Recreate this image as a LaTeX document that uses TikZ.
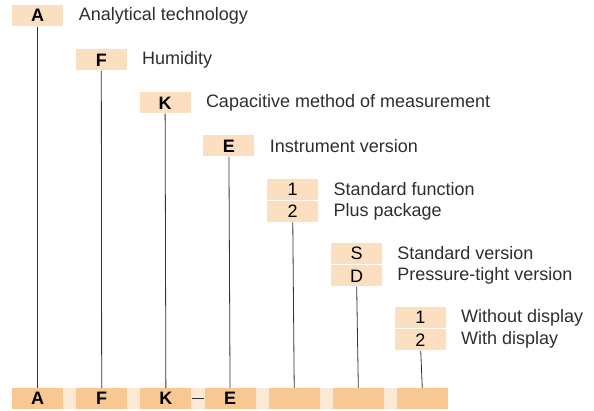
\documentclass[tikz,border=0pt]{standalone}
\usepackage{fontspec}
\setmainfont{Liberation Sans}
\usepackage{tikz}
\usetikzlibrary{positioning}
\definecolor{peach}{HTML}{FCDEC0}
\definecolor{peachdark}{HTML}{F8C893}
\definecolor{peachpale}{HTML}{FDE8D3}
\definecolor{linegray}{HTML}{333333}
\definecolor{textgray}{HTML}{2E2E2E}
\tikzstyle{code} = [rectangle, fill=peach, minimum width=51pt, minimum height=21pt, inner sep=0pt, text=black, font=\fontsize{18}{20}\selectfont]
\tikzstyle{slot} = [rectangle, fill=peachdark, minimum width=51pt, minimum height=21pt, inner sep=0pt, text=black, font=\fontsize{18}{20}\selectfont\bfseries]
\tikzstyle{label} = [inner sep=0pt, text=textgray, font=\fontsize{18}{21}\selectfont]
\tikzstyle{line} = [draw, linegray, line width=0.8pt]

\begin{document}
\begin{tikzpicture}[x=1pt, y=-1pt, node distance=15pt]
      \useasboundingbox (0,0) rectangle (594,410);
      \fill[peachpale] (12,388.2) rectangle (446,409.2);

      \node [slot] (bA) at (37.5,398.7) {A};
      \node [slot, right=12.8pt of bA] (bF) {F};
      \node [slot, right=12.8pt of bF] (bK) {K};
      \node [slot, right=12.8pt of bK] (bE) {E};
      \node [slot, right=12.8pt of bE] (bfunc) {};
      \node [slot, right=12.8pt of bfunc] (bver) {};
      \node [slot, right=12.8pt of bver] (bdisp) {};

      \node [code, font=\fontsize{18}{20}\selectfont\bfseries] (A) at (37.5,15.8) {A};
      \node [label, right=15.5pt of A] (lA) {Analytical technology};
      \node [code, font=\fontsize{18}{20}\selectfont\bfseries] (F) at (101.3,59.9) {F};
      \node [label, right=of F] (lF) {Humidity};
      \node [code, font=\fontsize{18}{20}\selectfont\bfseries] (K) at (165.1,102.9) {K};
      \node [label, right=of K] (lK) {Capacitive method of measurement};
      \node [code, font=\fontsize{18}{20}\selectfont\bfseries] (E) at (228.9,145.9) {E};
      \node [label, right=of E] (lE) {Instrument version};

      \node [code] (func1) at (292.7,189.2) {1};
      \node [code, below=1pt of func1] (func2) {2};
      \node [label, right=of func1] (lfunc1) {Standard function};
      \node [label, right=of func2] (lfunc2) {Plus package};

      \node [code] (verS) at (356.5,253.5) {S};
      \node [code, below=1pt of verS] (verD) {D};
      \node [label, right=of verS] (lverS) {Standard version};
      \node [label, right=of verD] (lverD) {Pressure-tight version};

      \node [code] (disp1) at (420.3,317.5) {1};
      \node [code, below=1pt of disp1] (disp2) {2};
      \node [label, right=of disp1] (ldisp1) {Without display};
      \node [label, right=of disp2] (ldisp2) {With display};

      \path [line] (A) -- (bA);
      \path [line] (F) -- (bF);
      \path [line] (K) -- (bK);
      \path [line] (E) -- (bE);
      \path [line] (func2) -- (bfunc);
      \path [line] (verD) -- (bver);
      \path [line] (disp2) -- (bdisp);
      \path [line] (bK) -- (bE);
    \end{tikzpicture}
\end{document}
